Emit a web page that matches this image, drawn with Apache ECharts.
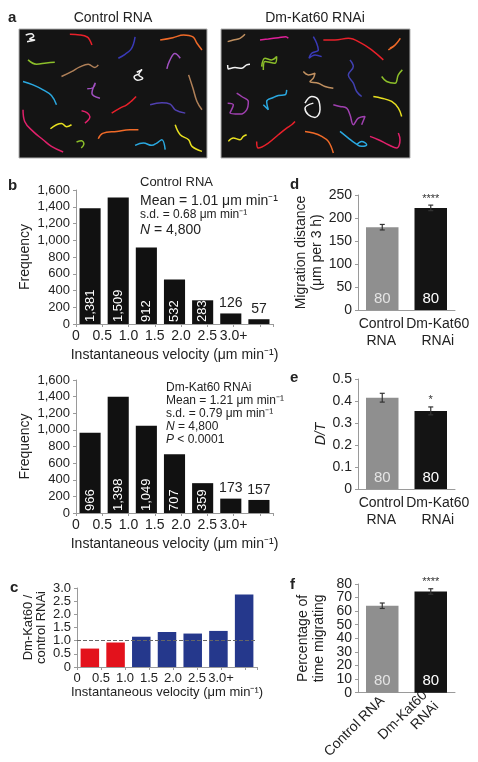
<!DOCTYPE html>
<html>
<head>
<meta charset="utf-8">
<script src="https://cdn.jsdelivr.net/npm/echarts@6/dist/echarts.min.js"></script>
<style>
html, body { margin: 0; padding: 0; background: #fff; }
#chart { width: 478px; height: 762px; }
</style>
</head>
<body>
<div id="chart"></div>
<script>
// --- data ---
var velLabels = ['0', '0.5', '1.0', '1.5', '2.0', '2.5', '3.0+'];
var ctrlFreq = [1381, 1509, 912, 532, 283, 126, 57];
var katFreq = [966, 1398, 1049, 707, 359, 173, 157];
var ratio = [0.70, 0.93, 1.15, 1.33, 1.27, 1.37, 2.75];

var groups = ['Control\nRNA', 'Dm-Kat60\nRNAi'];
var groupsRot = ['Control RNA', 'Dm-Kat60\nRNAi'];
var cellN = [80, 80];
var migDist = [180, 222], migErr = [6, 6], migStars = ['', '****'];
var dtRatio = [0.415, 0.355], dtErr = [0.02, 0.018], dtStars = ['', '*'];
var pctMig = [64, 74.5], pctErr = [2, 2], pctStars = ['', '****'];
var pctTicks = [0, 10, 20, 30, 40, 50, 60, 70, 80];

var ctrlStats = ['Control RNA', 'Mean = 1.01 μm min⁻¹', 's.d. = 0.68 μm min⁻¹', '4,800'];
var katStats = ['Dm-Kat60 RNAi', 'Mean = 1.21 μm min⁻¹', 's.d. = 0.79 μm min⁻¹', '4,800', '< 0.0001'];

// cell tracks traced off the two movie stills
var ctrlTracks = [
  [[48,30],[65,26],[72,34],[60,42],[75,45],[52,50]],
  [[180,28],[210,30],[232,36],[240,46],[246,60]],
  [[325,100],[345,88],[362,74],[370,58],[375,36]],
  [[450,45],[488,38],[520,30],[548,36],[560,55],[575,75]],
  [[55,105],[80,118],[110,114],[135,112]],
  [[155,155],[185,140],[210,126],[235,118],[255,128],[265,120]],
  [[470,132],[478,108],[494,86],[510,100]],
  [[380,142],[396,134],[386,150],[398,160],[382,166],[372,156],[386,148]],
  [[535,150],[548,190],[560,230],[575,255]],
  [[40,170],[70,180],[100,195],[125,212],[140,240]],
  [[232,192],[250,188],[256,174],[246,205],[270,220]],
  [[305,265],[330,250],[350,240],[365,228],[378,215]],
  [[420,240],[455,234],[480,238],[495,255],[525,265]],
  [[40,255],[45,290],[70,320],[100,345],[125,365],[160,382]],
  [[215,258],[232,264],[240,276],[225,295]],
  [[122,312],[140,300],[155,296],[170,306],[185,300]],
  [[200,352],[215,348],[222,358],[214,370]],
  [[265,342],[278,326],[320,320],[360,315],[385,315]],
  [[375,362],[400,355],[425,362],[440,355],[455,345],[465,375]],
  [[495,300],[510,330],[535,345],[545,365],[575,380]]
];
var ctrlTrackColors = ['#f2f2f2','#e8202a','#3a3ab8','#f06a28','#8cbf2a','#b08058','#a050c0','#f2f2f2','#b08058','#2aa8e0',
  '#a050c0','#e8202a','#5040b0','#e0206a','#e0206a','#e8e020','#8cbf2a','#f06a28','#2aa8e0','#e8e020'];

var katTracks = [
  [[38,50],[55,45],[75,40],[90,28]],
  [[135,45],[160,42],[190,38],[212,35],[220,40]],
  [[295,35],[305,55],[310,75],[290,85],[282,100],[300,90],[320,95]],
  [[325,45],[360,45],[400,40],[440,55],[470,75],[505,105]],
  [[520,75],[535,65],[545,55],[556,40],[540,60],[525,70]],
  [[38,120],[40,132],[60,128],[80,130],[95,120],[105,118]],
  [[140,125],[150,100],[170,105],[185,95],[180,115],[150,110],[145,135]],
  [[265,140],[280,150],[300,145],[295,160],[285,170],[310,175],[330,185],[355,190]],
  [[405,105],[415,125],[400,150],[415,175],[425,200],[440,215]],
  [[500,155],[515,170],[540,175],[550,150],[562,135]],
  [[38,235],[55,240],[45,265],[75,268],[95,255],[100,230],[80,215],[65,205]],
  [[145,240],[160,255],[155,230],[175,218],[190,212],[210,210],[215,195]],
  [[270,235],[290,215],[310,225],[315,255],[300,278],[280,270],[270,250],[295,235]],
  [[355,240],[375,245],[395,250],[405,270],[415,300],[430,280],[450,275],[440,300]],
  [[475,215],[500,220],[530,230],[550,250],[560,275]],
  [[40,350],[55,340],[75,345],[85,335],[95,330]],
  [[125,350],[130,370],[160,355],[190,330],[215,310],[230,300],[240,290]],
  [[270,320],[295,325],[320,335],[340,350],[355,385]],
  [[375,320],[400,340],[420,355],[440,365],[455,360],[440,350],[425,360]],
  [[465,335],[490,345],[520,360],[545,370],[555,345],[550,325]]
];
var katTrackColors = ['#c09060','#e0209a','#3a3ab8','#e8202a','#f06a28','#f2f2f2','#8cbf2a','#c09060','#4040b0','#8cbf2a',
  '#a040b0','#2aa8e0','#f2f2f2','#a040b0','#e8e020','#e8e020','#e8202a','#f06a28','#2aa8e0','#e0206a'];

// --- styling ---
var FONT = 'Liberation Sans';
var TXT = '#222';
var AX = '#9a9a9a';
var ctrlGrey = '#8f8f8f', katBlack = '#141414';
var red = '#e3121c', blue = '#25388c';

function comma(v) { return String(v).replace(/\B(?=(\d{3})+(?!\d))/g, ','); }
function oneDec(v) { return v === 0 ? '0' : v.toFixed(1); }

var myChart = echarts.init(document.getElementById('chart'), null, { renderer: 'canvas' });

var grids = [
  { left: 19, top: 29, width: 188, height: 129 },
  { left: 221, top: 29, width: 189, height: 129 },
  { left: 76, top: 190, width: 197, height: 134 },
  { left: 76, top: 380, width: 197, height: 133 },
  { left: 77, top: 588, width: 180, height: 79 },
  { left: 358, top: 195, width: 97, height: 115 },
  { left: 358, top: 379, width: 97, height: 110 },
  { left: 358, top: 584, width: 97, height: 111 }
];
grids[0].show = grids[1].show = true;
grids[0].backgroundColor = grids[1].backgroundColor = '#141414';
grids[0].borderColor = grids[1].borderColor = '#b0b0b0';
grids[0].borderWidth = grids[1].borderWidth = 1;

function hiddenCat(gi) {
  return { type: 'category', gridIndex: gi, position: 'bottom', data: velLabels, show: false };
}
function velAxis(gi, gap, fs) {
  return {
    type: 'value', gridIndex: gi, position: 'bottom', min: 0, max: 7.5, interval: 1,
    axisLine: { show: true, lineStyle: { color: AX } },
    axisTick: { show: true, length: 3, lineStyle: { color: AX } },
    splitLine: { show: false },
    axisLabel: { margin: 5, color: TXT, fontFamily: FONT, fontSize: fs,
      formatter: function (v) { return velLabels[v] !== undefined && v === Math.round(v) ? velLabels[v] : ''; } },
    name: 'Instantaneous velocity (μm min⁻¹)', nameLocation: 'middle', nameGap: gap,
    nameTextStyle: { color: TXT, fontFamily: FONT, fontSize: fs }
  };
}
// control label stays on its tick, the Dm-Kat60 label sits a little to the right as in the figure
var catRich = {
  c: { fontFamily: FONT, fontSize: 14, lineHeight: 17, color: TXT, padding: [0, 2, 0, 0] },
  k: { fontFamily: FONT, fontSize: 14, lineHeight: 17, color: TXT, padding: [0, 0, 0, 14] }
};
function catFmt(v, i) {
  var key = i === 0 ? 'c' : 'k';
  return v.split('\n').map(function (s) { return '{' + key + '|' + s + '}'; }).join('\n');
}
function groupAxis(gi, labels, rotate) {
  return {
    type: 'category', gridIndex: gi, position: 'bottom', data: labels,
    axisLine: { show: true, lineStyle: { color: AX } },
    axisTick: { show: false },
    axisLabel: rotate
      ? { margin: 6, color: TXT, fontFamily: FONT, fontSize: 14, lineHeight: 16, rotate: rotate, interval: 0 }
      : { margin: 6, interval: 0, formatter: catFmt, rich: catRich }
  };
}
function valAxis(gi, max, interval, name, gap, fmt, fs, nfs, nlh) {
  return {
    type: 'value', gridIndex: gi, position: 'left', min: 0, max: max, interval: interval,
    axisLine: { show: true, lineStyle: { color: AX } },
    axisTick: { show: true, length: 3, lineStyle: { color: AX } },
    splitLine: { show: false },
    axisLabel: { margin: 6, color: TXT, fontFamily: FONT, fontSize: fs || 14, formatter: fmt,
      showMinLabel: true, showMaxLabel: true },
    name: name, nameLocation: 'middle', nameGap: gap,
    nameTextStyle: { color: TXT, fontFamily: FONT, fontSize: nfs || 14, lineHeight: nlh || 16 }
  };
}

var xAxes = [
  { type: 'value', gridIndex: 0, min: 28, max: 590, show: false },
  { type: 'value', gridIndex: 1, min: 18, max: 585, show: false },
  hiddenCat(2), velAxis(2, 24, 14),
  hiddenCat(3), velAxis(3, 24, 14),
  hiddenCat(4), velAxis(4, 19, 13),
  groupAxis(5, groups), groupAxis(6, groups), groupAxis(7, groupsRot, 45)
];
var pctAxis = valAxis(7, 80, 10, 'Percentage of\ntime migrating', 31, null);
// panel f labels sit every 12 px: split them over two stacked axes so none get dropped
var pctAxisOdd = valAxis(7, 80, 10, '', 0, null);
pctAxis.axisLabel.customValues = pctTicks.filter(function (v, i) { return i % 2 === 0; });
pctAxisOdd.axisLabel.customValues = pctTicks.filter(function (v, i) { return i % 2 === 1; });
pctAxisOdd.axisLine.show = false;
pctAxisOdd.axisTick.show = false;

var yAxes = [
  { type: 'value', gridIndex: 0, min: 12, max: 400, inverse: true, show: false },
  { type: 'value', gridIndex: 1, min: 12, max: 400, inverse: true, show: false },
  valAxis(2, 1600, 200, 'Frequency', 36, comma, 13),
  valAxis(3, 1600, 200, 'Frequency', 36, comma, 13),
  valAxis(4, 3, 0.5, 'Dm-Kat60 /\ncontrol RNAi', 29, oneDec, 13, 13, 13),
  valAxis(5, 250, 50, 'Migration distance\n(μm per 3 h)', 31, null),
  valAxis(6, 0.5, 0.1, '{i|D/T}', 29, oneDec),
  pctAxis,
  pctAxisOdd
];
yAxes[6].nameTextStyle.rich = { i: { fontStyle: 'italic', fontFamily: FONT, fontSize: 14, color: TXT } };

var series = [];
function addTracks(tracks, colors, idx) {
  tracks.forEach(function (pts, i) {
    series.push({
      type: 'line', xAxisIndex: idx, yAxisIndex: idx, data: pts, showSymbol: false, smooth: 0.4,
      silent: true, lineStyle: { color: colors[i], width: 1.5 }
    });
  });
}
addTracks(ctrlTracks, ctrlTrackColors, 0);
addTracks(katTracks, katTrackColors, 1);

function histItems(vals) {
  return vals.map(function (v, i) {
    var outside = i >= vals.length - 2;
    return {
      value: v,
      label: outside
        ? { show: true, position: 'top', distance: 3, color: TXT, fontFamily: FONT, fontSize: 14, formatter: comma(v) }
        : { show: true, position: 'insideBottom', rotate: 90, align: 'left', verticalAlign: 'middle', distance: 2,
            color: '#fff', fontFamily: FONT, fontSize: 13, formatter: comma(v) }
    };
  });
}
series.push({ type: 'bar', xAxisIndex: 2, yAxisIndex: 2, data: histItems(ctrlFreq), barCategoryGap: '25%',
  itemStyle: { color: '#111' } });
series.push({ type: 'bar', xAxisIndex: 4, yAxisIndex: 3, data: histItems(katFreq), barCategoryGap: '25%',
  itemStyle: { color: '#111' } });
series.push({ type: 'bar', xAxisIndex: 6, yAxisIndex: 4, data: ratio, barCategoryGap: '28%',
  itemStyle: { color: function (p) { return p.value < 1 ? red : blue; } },
  markLine: { silent: true, symbol: 'none', label: { show: false },
    lineStyle: { color: '#666', type: 'dashed', width: 1 }, data: [{ yAxis: 1 }] } });

function groupBars(xi, yi, vals) {
  return {
    type: 'bar', xAxisIndex: xi, yAxisIndex: yi, barCategoryGap: '33%',
    data: vals.map(function (v, i) {
      return { value: v, itemStyle: { color: i === 0 ? ctrlGrey : katBlack },
        label: { show: true, position: 'insideBottom', distance: 4, formatter: String(cellN[i]),
          color: i === 0 ? '#e4e4e4' : '#fff', fontFamily: FONT, fontSize: 15 } };
    })
  };
}
function errBars(xi, yi, means, errs, stars) {
  return {
    type: 'custom', xAxisIndex: xi, yAxisIndex: yi, z: 10, silent: true,
    data: means.map(function (m, i) { return [i, m, errs[i]]; }),
    renderItem: function (params, api) {
      var x = api.value(0), m = api.value(1), e = api.value(2);
      var top = api.coord([x, m + e]), bot = api.coord([x, m - e]);
      var st = { stroke: '#333', lineWidth: 1.2 };
      var kids = [
        { type: 'line', shape: { x1: top[0], y1: top[1], x2: bot[0], y2: bot[1] }, style: st },
        { type: 'line', shape: { x1: top[0] - 2.5, y1: top[1], x2: top[0] + 2.5, y2: top[1] }, style: st },
        { type: 'line', shape: { x1: bot[0] - 2.5, y1: bot[1], x2: bot[0] + 2.5, y2: bot[1] }, style: st }
      ];
      var s = stars[params.dataIndex];
      if (s) kids.push({ type: 'text', style: { text: s, x: top[0], y: top[1] - 1, align: 'center',
        verticalAlign: 'bottom', fill: '#333', font: '11px "' + FONT + '"' } });
      return { type: 'group', children: kids };
    }
  };
}
series.push(groupBars(8, 5, migDist), errBars(8, 5, migDist, migErr, migStars));
series.push(groupBars(9, 6, dtRatio), errBars(9, 6, dtRatio, dtErr, dtStars));
series.push(groupBars(10, 7, pctMig), errBars(10, 7, pctMig, pctErr, pctStars));

function txt(x, y, text, size, opts) {
  var s = { text: text, x: x, y: y, fill: TXT, fontFamily: FONT, fontSize: size,
    textAlign: 'left', textVerticalAlign: 'middle' };
  for (var k in (opts || {})) s[k] = opts[k];
  return { type: 'text', style: s, silent: true };
}
var nRich = { i: { fontStyle: 'italic', fontFamily: FONT, fontSize: 14, fill: TXT } };
var smallRich = { i: { fontStyle: 'italic', fontFamily: FONT, fontSize: 12, fill: TXT } };
var graphics = [
  txt(8, 18, 'a', 15, { fontWeight: 'bold' }),
  txt(113, 18, 'Control RNA', 14, { textAlign: 'center' }),
  txt(315, 18, 'Dm-Kat60 RNAi', 14, { textAlign: 'center' }),
  txt(8, 186, 'b', 15, { fontWeight: 'bold' }),
  txt(140, 182, ctrlStats[0], 13),
  txt(140, 201, ctrlStats[1], 14),
  txt(140, 215, ctrlStats[2], 12),
  txt(140, 230, '{i|N} = ' + ctrlStats[3], 14, { rich: nRich }),
  txt(166, 388, katStats[0], 12),
  txt(166, 401, katStats[1], 12),
  txt(166, 414, katStats[2], 12),
  txt(166, 427, '{i|N} = ' + katStats[3], 12, { rich: smallRich }),
  txt(166, 440, '{i|P} ' + katStats[4], 12, { rich: smallRich }),
  txt(10, 588, 'c', 15, { fontWeight: 'bold' }),
  txt(290, 185, 'd', 15, { fontWeight: 'bold' }),
  txt(290, 378, 'e', 15, { fontWeight: 'bold' }),
  txt(290, 585, 'f', 15, { fontWeight: 'bold' })
];

var option = {
  backgroundColor: '#fff',
  animation: false,
  textStyle: { fontFamily: FONT },
  grid: grids,
  xAxis: xAxes,
  yAxis: yAxes,
  series: series,
  graphic: graphics
};
myChart.setOption(option);
</script>
</body>
</html>
